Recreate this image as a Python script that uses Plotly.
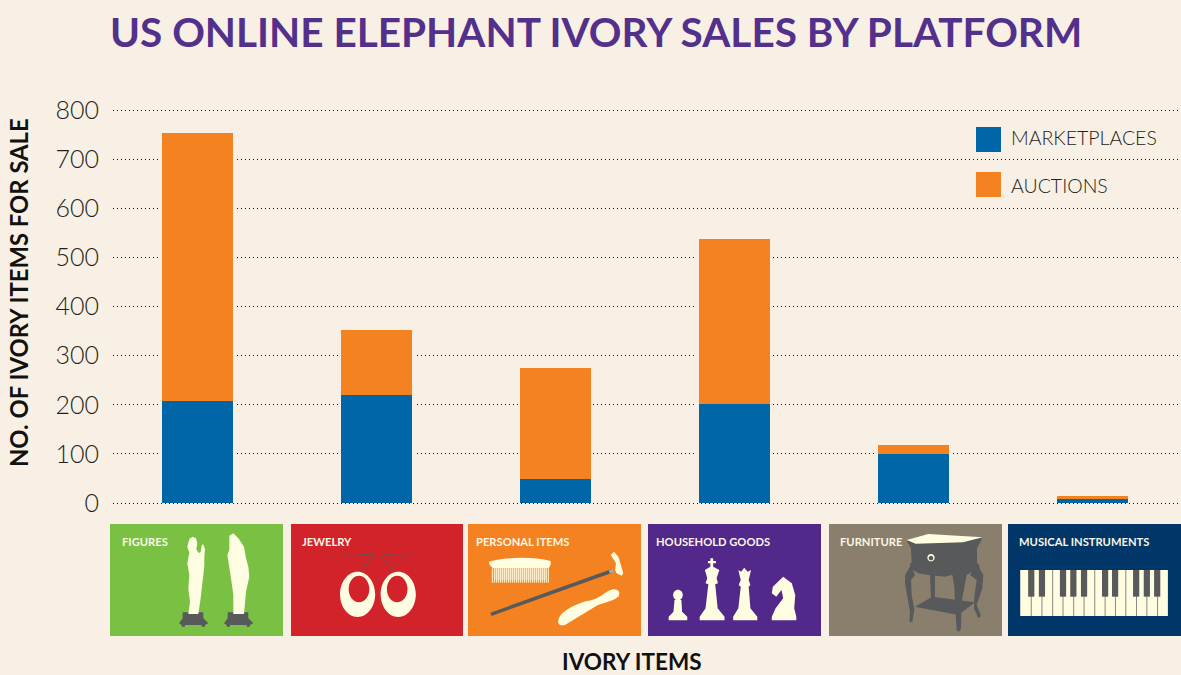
import re
import plotly.graph_objects as go

categories = ["FIGURES", "JEWELRY", "PERSONAL ITEMS", "HOUSEHOLD GOODS", "FURNITURE", "MUSICAL INSTRUMENTS"]
marketplaces = [208, 220, 49, 202, 100, 8]
auctions = [545, 132, 226, 336, 18, 6]
y_ticks = [0, 100, 200, 300, 400, 500, 600, 700, 800]
panel_colors = ["#7ac143", "#d2232a", "#f58220", "#52288a", "#8a7f6d", "#003768"]

BG, BLUE, ORANGE = "#f8f0e4", "#0066a8", "#f58220"
PURPLE, CREAM, DARK = "#52308b", "#fffde1", "#58595b"
W, H = 1181, 675
FONT = "Lato"
totals = [m + a for m, a in zip(marketplaces, auctions)]

fig = go.Figure()
fig.add_bar(x=categories, y=totals, width=0.42, marker=dict(color=BG, line=dict(width=0)),
            hoverinfo="skip", showlegend=False)
fig.add_bar(x=categories, y=totals, width=0.397, name="AUCTIONS", marker=dict(color=ORANGE, line=dict(width=0)),
            customdata=auctions, hovertemplate="%{x}: %{customdata}<extra>AUCTIONS</extra>")
fig.add_bar(x=categories, y=marketplaces, width=0.397, name="MARKETPLACES", marker=dict(color=BLUE, line=dict(width=0)))

shapes, notes = [], []
A = (100, 1568 / 540, 515)
B = (640, 1568 / 541, 515)
F = (170, 3, 525)
T = (895, 3, 525)
C = (480, 3, 545)
def fx(px):
    return px / W
def fy(py):
    return 1 - py / H
def tf(path, o):
    ox, sx, oy = o
    out, i = [], 0
    for tok in re.findall(r"[A-Za-z]|-?[\d.]+", path):
        if tok.isalpha():
            out.append(tok)
        else:
            v = float(tok)
            out.append(f"{fx(ox + v / sx) if i % 2 == 0 else fy(oy + v / 3):.5f}")
            i += 1
    return " ".join(out)
def add(path, o=A, fill=CREAM, line=None, lw=0, evenodd=False):
    s = dict(type="path", path=tf(path, o), xref="paper", yref="paper", layer="above",
             line=dict(width=lw, color=line or "rgba(0,0,0,0)"))
    if fill:
        s["fillcolor"] = fill
    if evenodd:
        s["fillrule"] = "evenodd"
    shapes.append(s)
def poly(pts):
    return "M" + " L".join(f"{x},{y}" for x, y in pts) + " Z"
def ell(cx, cy, rx, ry):
    k = 0.5523
    return (f"M{cx-rx},{cy} C{cx-rx},{cy-k*ry} {cx-k*rx},{cy-ry} {cx},{cy-ry} "
            f"C{cx+k*rx},{cy-ry} {cx+rx},{cy-k*ry} {cx+rx},{cy} "
            f"C{cx+rx},{cy+k*ry} {cx+k*rx},{cy+ry} {cx},{cy+ry} "
            f"C{cx-k*rx},{cy+ry} {cx-rx},{cy+k*ry} {cx-rx},{cy} Z")
def rect(x0, y0, x1, y1, fill):
    shapes.append(dict(type="rect", x0=fx(x0), x1=fx(x1), y0=fy(y0), y1=fy(y1), xref="paper", yref="paper",
                       layer="above", fillcolor=fill, line=dict(width=0)))
def text(px, py, s, size, color, anchor="left", angle=0, weight=None):
    f = dict(family=FONT, size=size, color=color)
    if weight:
        f["weight"] = weight
    notes.append(dict(x=fx(px), y=fy(py), xref="paper", yref="paper", text=s, showarrow=False, xanchor=anchor,
                      yanchor="middle", textangle=angle, font=f))

# category panels
panel_x = [(110, 283), (291, 463), (468, 641), (648, 821), (829, 1002), (1008, 1181)]
label_x = [120, 300, 474, 654, 838, 1017]
for (a, b), c, lx, name in zip(panel_x, panel_colors, label_x, categories):
    rect(a, 524, b, 636, c)
    text(lx, 541.5, f"<b>{name}</b>", 11.2, "#fbf6e6")

# figures
base = [(38,262),(100,262),(100,280),(115,295),(105,300),(105,305),(95,305),(95,300),(45,300),(45,305),(35,305),(35,300),(27,295),(38,280)]
add(poly(base), F, fill=DARK)
add(poly([(x + 135, y) for x, y in base]), F, fill=DARK)
add(poly([(68,35),(78,40),(82,55),(79,72),(86,85),(92,80),(95,62),(99,57),(105,72),(103,95),(103,120),(100,150),(97,175),(92,220),(85,267),(55,267),(60,230),(55,190),(58,150),(52,115),(58,82),(55,75),(52,65),(58,42)]), F)
add(poly([(178,32),(190,25),(205,40),(222,65),(228,100),(235,125),(238,155),(228,200),(222,267),(190,267),(190,210),(183,160),(172,90),(178,75)]), F)

# earrings
add(ell(748, 238, 51, 68) + " " + ell(752, 222, 30, 40), evenodd=True)
add(ell(866, 238, 51, 68) + " " + ell(863, 222, 30, 40), evenodd=True)
add("M710,118 C740,132 770,110 790,120 C802,135 770,145 760,168", fill=None, line=DARK, lw=1)
add("M905,118 C880,132 845,112 822,122 C815,135 845,145 853,168", fill=None, line=DARK, lw=1)

# comb, cane, shoehorn
add("M27,50 C80,35 160,35 212,48 C214,58 210,65 205,70 L40,70 C32,65 26,58 27,50 Z", C)
add(poly([(45,70),(198,70),(198,105),(45,105)]), C, fill="rgba(255,253,225,0.35)")
for x in range(37, 209, 6):
    add(f"M{x},70 L{x},113", C, fill=None, line=CREAM, lw=1)
add("M33,208 L395,78", C, fill=None, line=DARK, lw=3.5)
add("M388,81 L400,76", C, fill=None, line="#a8a8a0", lw=3.5)
add(poly([(392,30),(402,20),(415,35),(430,85),(425,92),(410,85),(405,75),(408,55)]), C)
add("M235,225 C240,200 280,180 320,168 C350,165 365,150 385,138 C410,125 425,140 415,155 C395,172 370,170 345,185 L255,240 C240,245 232,235 235,225 Z", C)

# chess pieces
add(ell(110, 240, 14, 16), B)
add(poly([(100,255),(120,255),(122,290),(137,305),(137,316),(83,316),(83,305),(97,290)]), B)
add(poly([(204,130),(212,130),(212,138),(220,138),(220,145),(212,145),(212,155),(230,165),(222,190),(226,205),(218,208),(225,280),(245,305),(245,316),(173,316),(173,305),(190,280),(198,208),(190,205),(195,190),(188,165),(204,155),(204,145),(197,145),(197,138),(204,138)]), B)
add(poly([(285,165),(293,170),(302,158),(312,170),(322,165),(315,195),(320,210),(315,215),(320,280),(340,305),(340,316),(270,316),(270,305),(285,280),(292,215),(286,210),(292,195)]), B)
add(poly([(415,185),(440,205),(450,240),(447,280),(453,305),(453,316),(382,316),(382,305),(393,280),(415,250),(410,225),(395,245),(382,235),(385,215)]), B)

# table
add(poly([(48,120),(60,150),(48,165),(50,210),(58,255),(52,290),(43,292),(45,260),(30,175),(30,150)]), T, fill=DARK)
add(poly([(245,115),(265,150),(262,190),(245,240),(258,272),(250,280),(237,250),(238,215),(245,165),(225,150)]), T, fill=DARK)
add(poly([(200,150),(215,150),(200,230),(198,310),(192,320),(185,315),(180,235),(178,185),(172,150)]), T, fill=DARK)
add(poly([(105,150),(120,150),(120,225),(108,228)]), T, fill=DARK)
add(poly([(60,245),(112,215),(240,232),(190,270)]), T, fill=DARK)
add(poly([(45,115),(245,110),(255,125),(215,150),(170,150),(150,155),(100,150),(70,145),(45,130)]), T, fill=DARK)
add(poly([(35,47),(262,40),(246,70),(246,115),(50,118),(48,70)]), T, fill=DARK)
add(poly([(35,45),(100,27),(262,37),(205,52),(62,56)]), T)
add(ell(108, 98, 11, 11) + " " + ell(108, 99, 7, 7), T, evenodd=True)

# piano
add(poly([(1102,165),(1530,165),(1530,303),(1102,303)]), B)
for x in [1134, 1165, 1196, 1226, 1257, 1287, 1318, 1348, 1378, 1408, 1439, 1469, 1500]:
    add(f"M{x},165 L{x},303", B, fill=None, line="#8a8a80", lw=1)
for x in [1125, 1156, 1217, 1247, 1278, 1339, 1368, 1429, 1460, 1490]:
    add(poly([(x,165),(x+18,165),(x+18,245),(x,245)]), B, fill=DARK)

# legend
for y0, ty, col, name in [(127, 137, BLUE, "MARKETPLACES"), (172, 185, ORANGE, "AUCTIONS")]:
    rect(976, y0, 1001, y0 + 25, col)
    text(1009, ty, name, 19.5, "#231f20", weight=300)

text(632, 661, "<b>IVORY ITEMS</b>", 22.5, "#111", anchor="center")
text(19, 293, "<b>NO. OF IVORY ITEMS FOR SALE</b>", 23.8, "#111", anchor="center", angle=-90)

fig.update_layout(
    width=W, height=H, margin=dict(l=0, r=0, t=0, b=0), autosize=False,
    paper_bgcolor=BG, plot_bgcolor=BG, barmode="overlay", bargap=0, showlegend=False,
    title=dict(text="<b>US ONLINE ELEPHANT IVORY SALES BY PLATFORM</b>", x=110 / W, xref="container", xanchor="left",
               y=1 - 33 / H, yref="container", yanchor="middle", automargin=False,
               font=dict(family=FONT, size=40.5, color=PURPLE)),
    xaxis=dict(domain=[113 / W, 1], type="category", range=[-0.475, 5.495], showticklabels=False, ticks="",
               automargin=False, showgrid=False, zeroline=False, showline=False,
               categoryorder="array", categoryarray=categories),
    yaxis=dict(domain=[1 - 510 / H, 1 - 100 / H], range=[-14.25, 820.36], tickvals=y_ticks, showline=False,
               zeroline=False, automargin=False, showgrid=True, griddash="1px,3px", gridcolor="#111", gridwidth=1.2,
               ticks="", ticklabelstandoff=13, tickfont=dict(family=FONT, size=25, color="#231f20", weight=300)),
    shapes=shapes, annotations=notes,
)
fig.write_html("out.html", config=dict(displayModeBar=False),
               post_script=f"document.body.style.margin='0';document.body.style.background='{BG}';")
